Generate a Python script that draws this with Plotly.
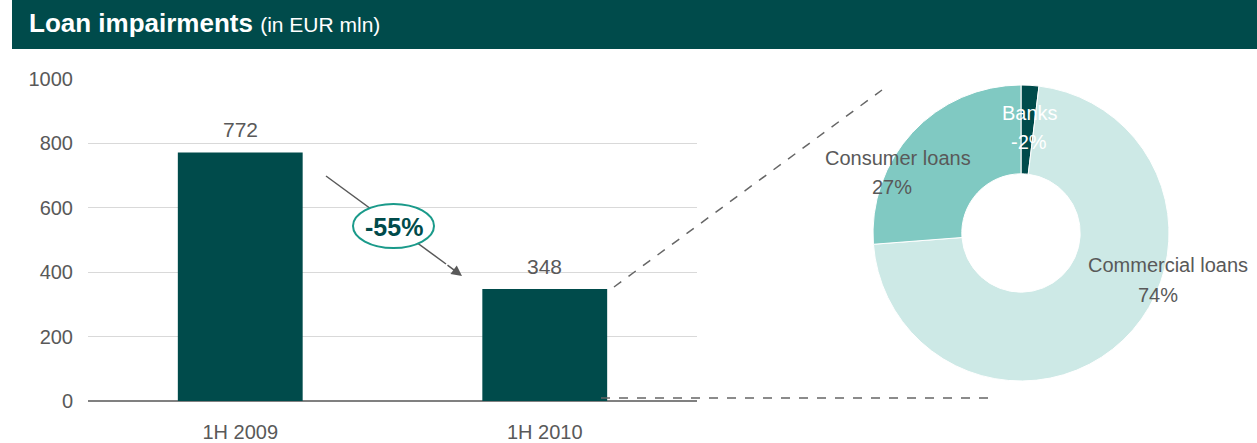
import plotly.graph_objects as go

W, H = 1257, 443

# Bar chart data
periods = ["1H 2009", "1H 2010"]
impairments = [772, 348]
change_label = "-55%"
y_ticks = [0, 200, 400, 600, 800, 1000]

# Breakdown of 1H 2010 impairments by segment (%)
segments = ["Banks", "Commercial loans", "Consumer loans"]
segment_share = [-2, 74, 27]

DARK = "#004b4b"
MID = "#80c9c2"
LIGHT = "#cde9e6"
GREY = "#595959"
FONT = "Liberation Sans, Arial, sans-serif"


def px(x):
    return x / W


def py(y):
    return 1 - y / H


fig = go.Figure()

fig.add_trace(go.Bar(
    x=periods, y=impairments,
    marker=dict(color=DARK, line=dict(width=0)),
    xaxis="x", yaxis="y",
    hoverinfo="x+y",
    showlegend=False,
))

fig.add_trace(go.Pie(
    labels=segments,
    values=[abs(v) for v in segment_share],
    marker=dict(colors=[DARK, LIGHT, MID], line=dict(color="white", width=1)),
    hole=0.4,
    sort=False,
    direction="clockwise",
    rotation=0,
    textinfo="none",
    hoverinfo="label",
    domain=dict(x=[px(873), px(1169)], y=[py(381), py(85)]),
    showlegend=False,
))

fig.update_layout(
    width=W, height=H,
    margin=dict(l=0, r=0, t=0, b=0, autoexpand=False),
    paper_bgcolor="white",
    plot_bgcolor="white",
    showlegend=False,
    bargap=0.59,
    font=dict(family=FONT, color=GREY, size=16),
    xaxis=dict(
        domain=[px(88), px(697)],
        showgrid=False,
        showline=False,
        ticks="",
        tickfont=dict(size=20, color=GREY),
        ticklabelstandoff=17,
        automargin=False,
        anchor="y",
    ),
    yaxis=dict(
        domain=[py(401), py(79)],
        range=[0, 1000],
        tickvals=y_ticks,
        gridcolor="#d9d9d9",
        gridwidth=1,
        zeroline=True,
        zerolinecolor="#808080",
        zerolinewidth=1.5,
        tickfont=dict(size=20, color=GREY),
        ticklabelstandoff=14,
        automargin=False,
        anchor="x",
    ),
)

# title banner, connectors, arrow shaft and the change badge
fig.add_shape(type="rect", xref="paper", yref="paper",
              x0=px(12), x1=1, y0=py(49), y1=1,
              fillcolor=DARK, line=dict(width=0), layer="below")
fig.add_shape(type="line", xref="paper", yref="paper",
              x0=px(614), y0=py(287), x1=px(882), y1=py(90),
              line=dict(color="#666666", width=1.5, dash="dash"))
fig.add_shape(type="line", xref="paper", yref="paper",
              x0=px(601), y0=py(398), x1=px(997), y1=py(398),
              line=dict(color="#666666", width=1.5, dash="dash"))
fig.add_shape(type="line", xref="paper", yref="paper",
              x0=px(326), y0=py(176), x1=px(446), y1=py(264),
              line=dict(color=GREY, width=1.5))
fig.add_shape(type="circle", xref="paper", yref="paper",
              x0=px(353), x1=px(434), y0=py(248), y1=py(204),
              fillcolor="white", line=dict(color="#1a9a8a", width=2))

annotations = [
    dict(xref="paper", yref="paper", x=px(27), y=py(23), xanchor="left", yanchor="middle",
         text="<b>Loan impairments</b> <span style='font-size:21px'>(in EUR mln)</span>",
         showarrow=False, font=dict(size=26, color="white", family=FONT)),
    # arrowhead of the decline arrow
    dict(xref="paper", yref="paper", x=px(462), y=py(276),
         ax=-16, ay=-12, axref="pixel", ayref="pixel",
         text="", showarrow=True, arrowhead=2, arrowsize=1.4,
         arrowwidth=1.5, arrowcolor=GREY, standoff=0),
    dict(xref="paper", yref="paper", x=px(394), y=py(227),
         xanchor="center", yanchor="middle",
         text=f"<b>{change_label}</b>", showarrow=False,
         font=dict(size=25, color=DARK, family=FONT)),
]

# value labels above the bars
for p, v in zip(periods, impairments):
    annotations.append(dict(xref="x", yref="y", x=p, y=v, yanchor="bottom",
                            xanchor="center", yshift=9, text=str(v), showarrow=False,
                            font=dict(size=21, color=GREY, family=FONT)))

# donut slice labels: (name x, name y, value x, value y, colour)
label_pos = {
    "Banks": (1030, 113, 1029, 142, "white"),
    "Consumer loans": (898, 158, 892, 187, GREY),
    "Commercial loans": (1168, 265, 1158, 295, GREY),
}
for name, share in zip(segments, segment_share):
    nx, ny, vx, vy, col = label_pos[name]
    annotations.append(dict(xref="paper", yref="paper", x=px(nx), y=py(ny),
                            xanchor="center", yanchor="middle",
                            text=name, showarrow=False,
                            font=dict(size=20, color=col, family=FONT)))
    annotations.append(dict(xref="paper", yref="paper", x=px(vx), y=py(vy),
                            xanchor="center", yanchor="middle",
                            text=f"{share}%", showarrow=False,
                            font=dict(size=20, color=col, family=FONT)))

fig.update_layout(annotations=annotations)

fig.write_html("out.html")
